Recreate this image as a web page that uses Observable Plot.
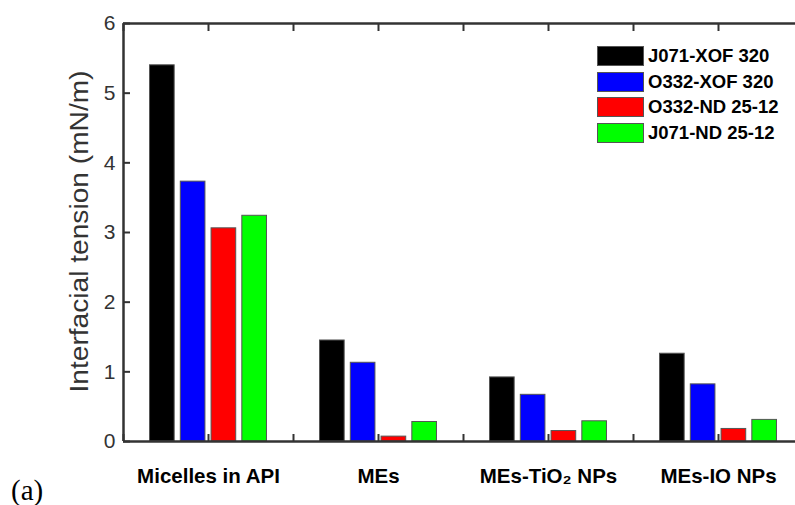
<!DOCTYPE html>
<html><head><meta charset="utf-8">
<script src="https://cdn.jsdelivr.net/npm/d3@7"></script>
<script src="https://cdn.jsdelivr.net/npm/@observablehq/plot@0.6"></script>
<style>
body{margin:0;background:#fff;overflow:hidden;}
#wrap{position:relative;width:795px;height:505px;overflow:hidden;}
#legend{position:absolute;left:597px;top:43px;font-family:"Liberation Sans",Arial,sans-serif;font-weight:bold;font-size:18.5px;color:#000;}
.row{display:flex;align-items:center;height:25.7px;}
.sw{width:45px;height:18px;border:1px solid #555;margin-right:4px;box-sizing:content-box;}
#tag{position:absolute;left:11px;top:474px;font-family:"Liberation Serif","Times New Roman",serif;font-size:29px;color:#000;}
</style></head><body><div id="wrap"></div>
<script>
const categories = ["Micelles in API", "MEs", "MEs-TiO\u2082 NPs", "MEs-IO NPs"];
const series = ["J071-XOF 320", "O332-XOF 320", "O332-ND 25-12", "J071-ND 25-12"];
const colors = ["#000000", "#0000ff", "#ff0000", "#00ff00"];
const j071Xof = [5.40, 1.45, 0.92, 1.26];
const o332Xof = [3.73, 1.13, 0.67, 0.82];
const o332Nd = [3.06, 0.07, 0.15, 0.18];
const j071Nd = [3.24, 0.28, 0.29, 0.31];
const yTicks = [0, 1, 2, 3, 4, 5, 6];
const xFrameTicks = [0.5, 1, 1.5, 2, 2.5, 3, 3.5, 4, 4.5];

const seriesValues = [j071Xof, o332Xof, o332Nd, j071Nd];
const rows = [];
categories.forEach((c, ci) => seriesValues.forEach((vals, si) => rows.push({ci, si, series: series[si], value: vals[ci]})));

const step = 0.181, bw = 0.145;
const pos = d => d.ci + 1 + (d.si - 1.5) * step;

const plot = Plot.plot({
  width: 795, height: 505,
  marginLeft: 123, marginRight: -8, marginTop: 23, marginBottom: 64,
  x: {domain: [0.5, 4.5]},
  y: {domain: [0, 6]},
  color: {domain: series, range: colors},
  style: {fontFamily: "'Liberation Sans', Arial, sans-serif", background: "white"},
  marks: [
    Plot.rectY(rows, {x1: d => pos(d) - bw / 2, x2: d => pos(d) + bw / 2, y1: 0, y2: "value", fill: "series", stroke: "#555", strokeWidth: 1}),
    Plot.axisX({anchor: "bottom", ticks: xFrameTicks, tickSize: -7, tickFormat: () => "", stroke: "#333", strokeWidth: 2, label: null}),
    Plot.axisX({anchor: "top", ticks: xFrameTicks, tickSize: -7, tickFormat: () => "", stroke: "#333", strokeWidth: 2, label: null}),
    Plot.axisX({anchor: "bottom", ticks: [1, 2, 3, 4], tickSize: 0, tickPadding: 27, tickFormat: i => categories[i - 1], fontSize: 20.5, fontWeight: "bold", fill: "#000", label: null}),
    Plot.axisY({anchor: "left", ticks: yTicks, tickSize: -7, tickFormat: () => "", stroke: "#333", strokeWidth: 2, label: null}),
    Plot.axisY({anchor: "left", ticks: yTicks, tickSize: 0, tickPadding: 8, tickFormat: d3.format("d"), fontSize: 21, fill: "#333", label: null}),
    Plot.ruleY([0, 6], {stroke: "#333", strokeWidth: 2.5}),
    Plot.ruleX([0.5], {stroke: "#333", strokeWidth: 2.5}),
    Plot.text(["Interfacial tension (mN/m)"], {frameAnchor: "bottom-left", textAnchor: "start", rotate: -90, dx: -36, dy: -49, fontSize: 25, fill: "#333", className: "ylab"})
  ]
});
d3.select(plot).selectAll(".ylab text").attr("textLength", 322).attr("lengthAdjust", "spacingAndGlyphs");

const wrap = document.getElementById("wrap");
wrap.appendChild(plot);
const legend = document.createElement("div");
legend.id = "legend";
series.forEach((s, i) => {
  const r = document.createElement("div"); r.className = "row";
  const sw = document.createElement("div"); sw.className = "sw"; sw.style.background = colors[i];
  const t = document.createElement("span"); t.textContent = s;
  r.appendChild(sw); r.appendChild(t); legend.appendChild(r);
});
wrap.appendChild(legend);
const tag = document.createElement("div"); tag.id = "tag"; tag.textContent = "(a)";
wrap.appendChild(tag);
</script></body></html>
